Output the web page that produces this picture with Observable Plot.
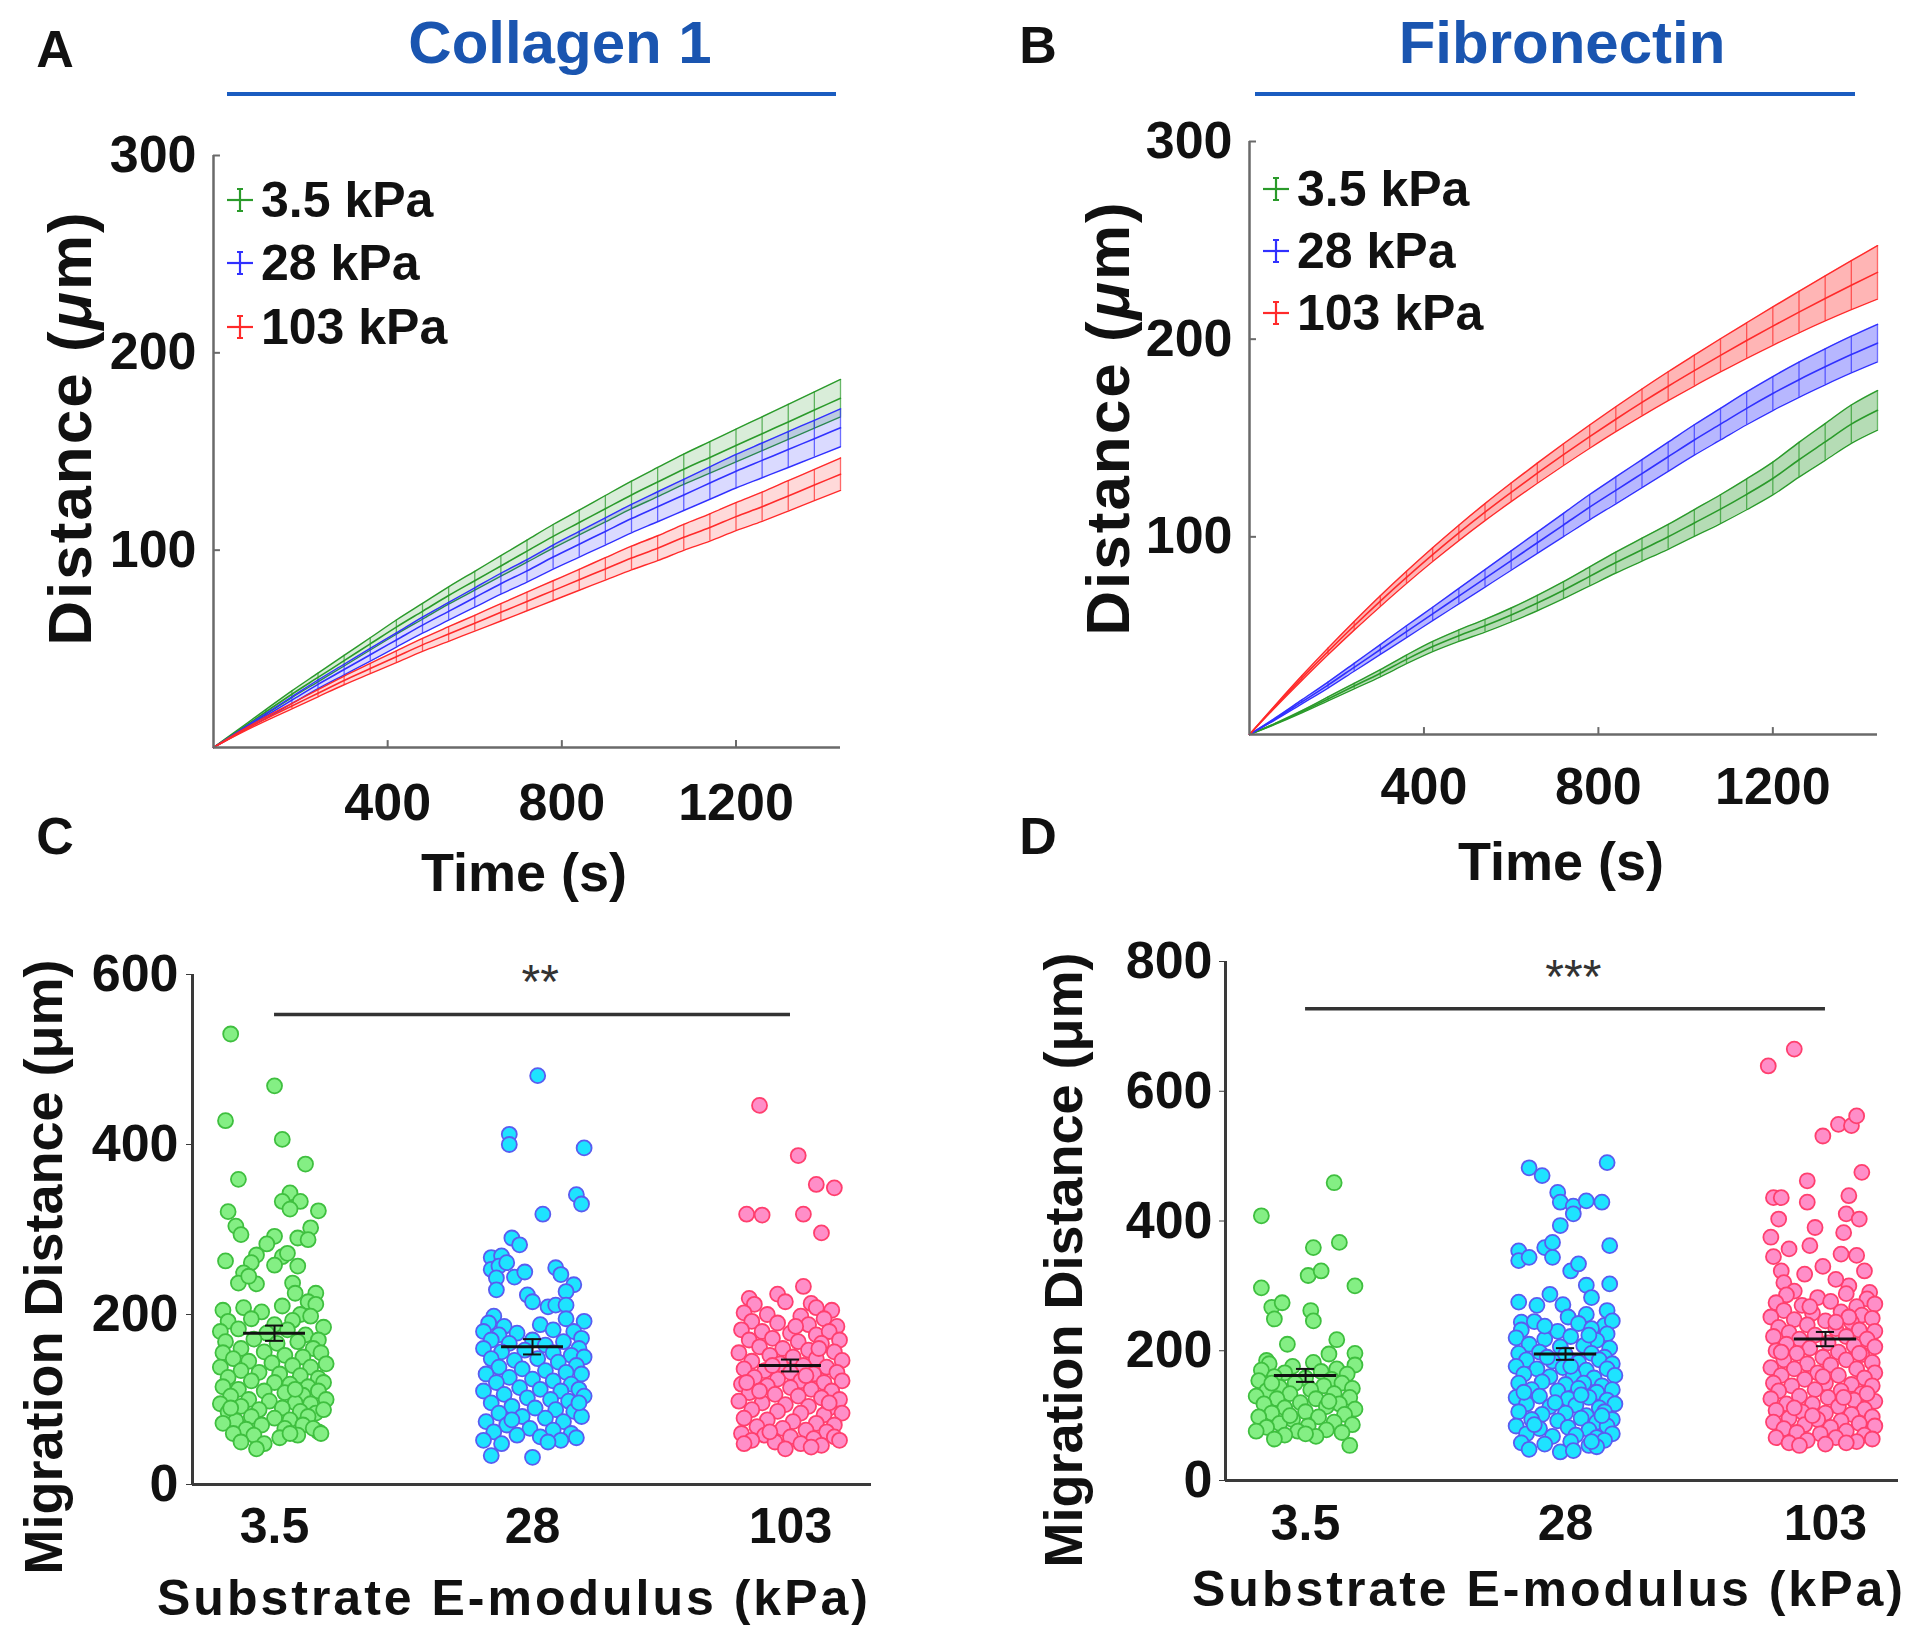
<!DOCTYPE html>
<html lang="en"><head><meta charset="utf-8">
<script src="https://cdn.jsdelivr.net/npm/d3@7"></script>
<script src="https://cdn.jsdelivr.net/npm/@observablehq/plot@0.6"></script>
<style>
body{margin:0;background:#fff;}
#fig{position:relative;width:1920px;height:1630px;background:#fff;font-family:'Liberation Sans',Arial,Helvetica,sans-serif;color:#111;overflow:hidden;}
.t{position:absolute;transform:translate(-50%,-50%);white-space:nowrap;line-height:1;font-weight:bold;}
.yl{position:absolute;transform:translate(-50%,-50%) rotate(-90deg);white-space:nowrap;line-height:1;font-weight:bold;}
.panel{position:absolute;}
.hl{position:absolute;height:4px;background:#1a5cc0;}
.lg{position:absolute;display:flex;align-items:center;gap:8px;transform:translateY(-50%);font-weight:bold;font-size:50px;line-height:1;white-space:nowrap;}
</style></head>
<body><div id="fig"></div>
<script>
// ---------- data: time courses (mean distance, µm) ----------
const times = [0,60,120,180,240,300,360,420,480,540,600,660,720,780,840,900,960,1020,1080,1140,1200,1260,1320,1380,1440];
const seriesNames = ["3.5 kPa","28 kPa","103 kPa"];
const colMean35  = [0,9,18,27,35.5,44,52.5,61,69,77,84.5,92,99.5,107,114,121,128,134.5,141,147,153,159,165,171,177];
const colMean28  = [0,8,16,24,32,39.5,47,54.5,62,69,76,83,89.5,96.5,103,109.5,116,122,128,134,140,145.5,151,156.5,162];
const colMean103 = [0,7.5,14.5,21,27.5,34,40,46,52,57.5,63,68.5,74,79.5,85,90.5,96,101,106.5,111.5,117,122,127.5,133,138.5];
const colErr35   = [0,0.6,1.2,1.7,2.2,2.7,3.1,3.6,4.0,4.4,4.8,5.2,5.6,6.0,6.3,6.7,7.0,7.4,7.7,8.0,8.3,8.6,8.9,9.2,9.5];
const colErr28   = [0,0.6,1.2,1.7,2.2,2.7,3.2,3.6,4.1,4.5,4.9,5.3,5.7,6.1,6.5,6.9,7.2,7.6,7.9,8.2,8.5,8.8,9.1,9.3,9.6];
const colErr103  = [0,0.5,1.0,1.4,1.8,2.2,2.6,3.0,3.3,3.7,4.0,4.4,4.7,5.0,5.3,5.7,6.0,6.3,6.6,6.9,7.1,7.4,7.7,7.9,8.2];
const fnMean35   = [0,5.5,11.5,18,24.5,31,38,44.5,50,55,60.5,66.5,73,80,87,93.5,100,107,114,121.5,129.5,139,148,157,164];
const fnMean28   = [0,8,16.5,25,34,43,52,61,70,79,88,97,106,115,123.5,132,140.5,149,157,165,172.5,179.5,186,192.2,198];
const fnMean103  = [0,14.5,28.5,42,55,67.5,79.5,91,102,112.5,122.5,132.2,141.6,150.7,159.5,168,176.2,184.1,191.8,199.3,206.6,213.7,220.6,227.3,233.8];
const fnErr35    = [0,0.3,0.6,1.0,1.4,1.8,2.2,2.6,2.9,3.2,3.5,3.9,4.3,4.8,5.3,5.8,6.3,6.8,7.3,7.8,8.3,8.8,9.3,9.7,10.0];
const fnErr28    = [0,0.5,1.0,1.5,2.0,2.5,3.0,3.4,3.9,4.4,4.9,5.4,5.9,6.4,6.8,7.1,7.4,7.7,8.0,8.3,8.6,8.9,9.1,9.3,9.5];
const fnErr103   = [0,0.6,1.2,1.7,2.2,2.7,3.1,3.5,3.9,4.3,4.7,5.1,5.5,5.9,6.3,6.8,7.3,7.8,8.4,9.0,9.7,10.5,11.4,12.4,13.5];
const timeTicks = [400,800,1200];
const distTicks = [100,200,300];

// ---------- data: migration distance per cell [jitter, µm] ----------
const categories = ["3.5","28","103"];
const col35 = [[-0.17,530],[0.00,469],[-0.19,428],[0.03,406],[0.12,377],[-0.14,359],[0.06,343],[0.03,333],[0.10,333],[0.06,324],[0.17,322],[-0.18,321],[-0.15,304],[-0.13,294],[0.14,302],[0.09,290],[0.13,288],[0.00,292],[-0.03,283],[-0.19,263],[-0.07,270],[-0.09,261],[0.03,268],[0.00,258],[0.05,272],[0.09,257],[-0.12,249],[-0.14,237],[-0.07,236],[-0.10,245],[0.07,237],[0.08,225],[0.16,225],[0.13,215],
[-0.20,205],[-0.12,208],[-0.05,203],[0.03,210],[0.10,200],[0.16,212],[-0.18,192],[-0.09,195],[0.00,188],[0.07,193],[0.14,198],[0.19,185],[-0.21,180],[-0.14,183],[-0.03,178],[0.05,182],[0.12,176],[0.17,170],[-0.19,168],[-0.08,171],[0.01,166],[0.09,168],[0.15,160],[-0.13,160],[-0.20,155],[-0.04,156],[0.04,152],[0.11,150],[0.18,155],[-0.16,148],[-0.10,145],[-0.01,143],[0.07,140],[0.14,138],[0.20,142],[-0.21,138],[-0.13,134],[-0.06,132],[0.02,130],[0.10,128],[0.17,125],[-0.18,126],[-0.09,122],[0.00,120],[0.06,118],[0.13,115],[0.19,120],[-0.20,115],[-0.14,112],[-0.04,110],[0.04,108],[0.11,105],[0.17,110],[-0.17,104],[-0.10,100],[-0.02,98],[0.08,96],[0.14,95],[0.20,100],[-0.21,95],[-0.13,92],[-0.06,88],[0.03,90],[0.10,86],[0.16,84],[-0.18,85],[-0.09,80],[0.00,78],[0.06,76],[0.13,80],[0.19,88],[-0.15,75],[-0.20,72],[-0.05,70],[0.04,66],[0.11,70],[0.17,62],[-0.11,65],[-0.16,60],[-0.08,58],[0.02,55],[0.09,58],[0.15,66],[-0.04,48],[-0.13,50],[-0.07,42],[0.06,60],[0.18,60],[-0.17,90],[0.08,112]];
const col28 = [[0.02,481],[-0.09,412],[-0.09,400],[0.20,396],[0.17,341],[0.19,330],[0.04,318],[-0.08,290],[-0.05,282],[-0.16,267],[-0.12,269],[-0.16,253],[-0.13,257],[-0.10,261],[-0.14,243],[-0.07,244],[-0.03,250],[-0.14,229],[0.09,255],[0.11,247],[0.16,235],[0.13,227],[-0.02,223],[0.00,215],[0.06,209],[0.09,211],[0.13,211],
[-0.15,198],[-0.17,190],[0.13,195],[0.20,192],[-0.11,186],[0.03,188],[-0.19,180],[-0.13,176],[-0.06,178],[0.08,182],[0.16,180],[0.19,172],[-0.16,170],[-0.09,166],[0.00,170],[0.05,164],[0.12,168],[0.18,160],[-0.19,160],[-0.12,156],[-0.03,158],[0.08,155],[0.15,152],[0.20,150],[-0.16,148],[-0.07,146],[0.02,148],[0.10,144],[0.17,140],[-0.13,138],[-0.04,136],[0.05,134],[0.13,132],[0.19,130],[-0.18,130],[-0.09,126],[0.00,124],[0.08,122],[0.15,118],[-0.14,120],[-0.05,114],[0.03,112],[0.11,110],[0.18,112],[-0.19,110],[-0.11,106],[-0.02,102],[0.07,100],[0.14,98],[0.20,104],[-0.16,96],[-0.08,92],[0.01,90],[0.09,88],[0.16,86],[-0.13,84],[-0.04,80],[0.05,78],[0.12,74],[0.19,80],[-0.18,74],[-0.10,70],[-0.01,66],[0.08,64],[0.15,60],[-0.15,62],[-0.06,58],[0.03,56],[0.11,52],[0.17,55],[-0.19,52],[-0.12,48],[-0.16,34],[0.00,32],[0.06,50],[-0.08,76],[0.18,96]];
const col103 = [[-0.12,446],[0.03,387],[0.10,353],[0.17,349],[-0.17,318],[-0.11,317],[0.05,318],[0.12,296],[0.05,233],[-0.16,219],[-0.05,224],[0.08,213],
[-0.14,212],[-0.02,215],[0.10,208],[0.16,205],[-0.18,202],[-0.09,200],[0.04,198],[0.13,195],[-0.15,192],[-0.05,190],[0.07,188],[0.18,186],[-0.19,182],[-0.11,180],[0.00,178],[0.10,176],[0.15,180],[-0.07,172],[-0.16,170],[0.03,168],[0.12,166],[0.19,170],[-0.12,162],[-0.03,160],[0.07,158],[0.17,156],[-0.20,155],[-0.08,152],[0.01,150],[0.10,148],[0.20,146],[-0.15,145],[-0.04,142],[0.05,140],[0.14,138],[-0.18,136],[-0.10,134],[0.00,132],[0.09,130],[0.18,132],[-0.14,126],[-0.05,124],[0.04,122],[0.13,120],[0.20,122],[-0.19,118],[-0.09,116],[0.00,114],[0.08,112],[0.16,110],[-0.16,108],[-0.06,106],[0.03,104],[0.12,102],[0.19,100],[-0.20,98],[-0.11,96],[-0.02,94],[0.07,92],[0.15,90],[-0.15,88],[-0.05,86],[0.04,84],[0.13,82],[0.20,84],[-0.18,78],[-0.09,76],[0.01,74],[0.10,72],[0.17,70],[-0.13,68],[-0.03,66],[0.06,64],[0.14,62],[-0.19,60],[-0.10,58],[0.00,56],[0.09,54],[0.17,56],[-0.15,52],[-0.06,50],[0.04,48],[0.12,46],[-0.18,48],[-0.02,42],[0.08,44],[0.19,52],[-0.12,110],[0.06,128],[-0.07,140],[0.11,160],[-0.17,120],[0.15,96],[-0.08,62],[0.02,186]];
const fn35 = [[0.11,459],[-0.17,408],[0.03,359],[0.13,367],[0.01,316],[0.06,323],[-0.17,297],[0.19,300],[-0.13,267],[-0.09,274],[-0.12,249],[0.02,262],[0.03,246],[-0.07,210],[0.12,217],[0.19,196],[-0.15,185],[0.09,195],
[-0.14,180],[0.03,182],[0.19,178],[-0.05,176],[0.12,172],[-0.17,170],[-0.08,166],[0.06,168],[0.16,164],[-0.12,160],[0.00,158],[0.10,156],[-0.18,154],[-0.04,150],[0.14,150],[0.07,146],[-0.10,144],[0.18,142],[-0.15,138],[0.02,140],[-0.06,134],[0.11,134],[0.17,128],[-0.19,130],[-0.11,126],[0.04,126],[-0.02,120],[0.13,118],[-0.16,118],[0.08,114],[-0.08,112],[0.19,110],[0.00,106],[-0.13,104],[0.15,102],[-0.18,98],[0.05,98],[-0.05,94],[0.11,90],[-0.10,88],[0.18,86],[0.01,84],[-0.15,82],[0.08,78],[-0.03,76],[0.14,74],[-0.19,76],[-0.08,70],[0.04,68],[-0.12,64],[0.00,72],[0.17,54],[-0.06,100],[0.09,122],[-0.13,150]];
const fn28 = [[0.16,490],[-0.14,482],[-0.09,470],[-0.03,444],[-0.02,429],[0.03,423],[0.08,431],[0.14,429],[0.03,411],[-0.02,393],[0.17,362],[-0.18,354],[-0.18,339],[-0.14,344],[-0.08,359],[-0.05,367],[-0.05,344],[0.02,323],[0.05,334],[0.17,303],[0.08,301],[0.10,282],[-0.18,275],[-0.17,244],[-0.11,270],[-0.06,287],[-0.01,271],[0.01,252],[0.16,262],[0.15,239],[0.08,256],
[-0.12,245],[0.05,242],[0.18,246],[-0.17,232],[-0.03,230],[0.10,234],[0.16,226],[-0.19,220],[-0.08,218],[0.02,222],[0.12,216],[-0.14,210],[-0.02,206],[0.07,208],[0.17,204],[-0.18,196],[-0.10,198],[0.00,194],[0.10,196],[0.15,190],[-0.15,186],[-0.05,184],[0.05,182],[0.13,186],[0.18,180],[-0.19,176],[-0.11,172],[-0.01,174],[0.08,170],[0.16,172],[-0.16,164],[-0.06,160],[0.03,162],[0.11,158],[0.19,162],[-0.18,150],[-0.09,152],[0.00,148],[0.07,150],[0.14,146],[-0.13,140],[-0.03,138],[0.05,142],[0.12,136],[0.18,140],[-0.19,128],[-0.10,130],[0.01,126],[0.09,128],[0.16,124],[-0.15,118],[-0.06,114],[0.04,116],[0.13,112],[0.19,118],[-0.18,106],[-0.09,102],[0.00,104],[0.08,100],[0.15,106],[-0.13,94],[-0.03,92],[0.06,96],[0.12,90],[0.18,94],[-0.19,84],[-0.10,80],[0.01,82],[0.09,78],[0.16,84],[-0.15,72],[-0.05,68],[0.04,70],[0.12,66],[0.18,72],[-0.17,58],[-0.08,56],[0.02,60],[0.09,54],[0.15,62],[-0.14,48],[-0.02,44],[0.03,46],[0.12,52],[-0.07,190],[0.06,132],[-0.12,86],[0.10,60],[-0.04,120],[0.14,100],[-0.16,136],[0.02,176],[-0.08,238],[0.09,224]];
const fn103 = [[-0.22,639],[-0.12,665],[-0.01,531],[0.05,549],[0.10,547],[0.12,562],[0.14,475],[-0.07,462],[-0.07,429],[-0.20,436],[-0.17,436],[0.09,439],[0.08,411],[0.13,403],[0.07,382],[-0.18,403],[-0.04,390],[-0.06,362],[-0.21,375],[-0.14,357],[0.06,349],[0.12,347],[0.15,323],[-0.20,345],[-0.17,323],[-0.16,305],[-0.08,318],[-0.01,330],[0.09,300],[0.04,310],[-0.12,292],[0.17,290],
[-0.15,286],[-0.03,282],[0.08,288],[0.16,280],[-0.19,274],[-0.09,270],[0.02,276],[0.12,268],[0.19,272],[-0.16,262],[-0.05,258],[0.06,260],[0.14,255],[-0.21,252],[-0.12,248],[0.00,246],[0.10,244],[0.18,250],[-0.07,240],[-0.18,236],[0.04,234],[0.13,232],[-0.14,228],[0.19,230],[-0.04,224],[0.08,222],[-0.10,218],[0.16,218],[-0.20,222],[-0.15,210],[0.01,212],[0.11,208],[-0.06,204],[0.19,206],[-0.19,200],[-0.11,196],[0.05,198],[0.14,194],[-0.01,190],[-0.16,186],[0.08,186],[0.18,182],[-0.07,180],[0.02,178],[-0.21,174],[-0.12,172],[0.12,172],[0.19,166],[-0.03,166],[-0.17,162],[0.05,162],[0.15,158],[-0.08,156],[-0.20,150],[0.00,150],[0.10,148],[-0.13,146],[0.18,146],[-0.04,140],[-0.18,138],[0.06,138],[0.14,134],[-0.10,130],[0.01,128],[-0.21,126],[0.11,124],[0.19,122],[-0.15,118],[-0.05,118],[0.05,114],[0.15,110],[-0.19,108],[-0.09,106],[0.00,104],[0.10,102],[0.18,98],[-0.14,96],[-0.03,94],[0.06,92],[-0.20,90],[-0.08,86],[0.13,88],[0.02,82],[0.19,84],[-0.16,80],[-0.11,74],[0.08,76],[-0.02,72],[0.15,70],[-0.19,66],[0.04,66],[-0.07,62],[0.12,60],[0.18,64],[-0.14,58],[0.00,56],[-0.10,54],[0.08,58],[-0.06,268],[0.09,252],[-0.17,198],[0.04,244],[-0.01,160],[0.13,196],[-0.12,112],[0.07,128],[0.16,134],[-0.05,100]];
const colMeans = [178,162,140], colSems = [9,9,7];
const fnMeans  = [162,195,218], fnSems  = [10,9,11];
const colSig = {from:1, to:3, y:553, ty:590, label:"**"};
const fnSig  = {from:1, to:3, y:727, ty:775, label:"***"};
const colTicks = [0,200,400,600];
const fnTicks = [0,200,400,600,800];

// ---------- styles ----------
const lineColors = ["#2a9a2a","#3030ff","#ff2a2a"];
const dotFill   = ["#84ef84","#1ee3ff","#ff8ec8"];
const dotStroke = ["#3fbf3f","#5a5cf0","#ff3f6e"];
const FONT = "'Liberation Sans',Arial,Helvetica,sans-serif";
const fig = document.getElementById("fig");

function place(node, left, top){
  const d = document.createElement("div");
  d.className = "panel"; d.style.left = left+"px"; d.style.top = top+"px";
  d.appendChild(node); fig.appendChild(d);
}
function txt(html, x, y, size, cls="t", extra=""){
  const d = document.createElement("div");
  d.className = cls; d.innerHTML = html;
  d.style.cssText += `left:${x}px;top:${y}px;font-size:${size}px;${extra}`;
  fig.appendChild(d);
}

function timePanel(means, errs, fo, dims){
  const marks = [];
  means.forEach((m, k) => {
    const data = times.map((t,i)=>({t, m:m[i], e:errs[k][i]}));
    marks.push(Plot.areaY(data,{x:"t", y1:d=>d.m-d.e, y2:d=>d.m+d.e, fill:lineColors[k], fillOpacity:fo, curve:"monotone-x"}));
    marks.push(Plot.ruleX(data,{x:"t", y1:d=>d.m-d.e, y2:d=>d.m+d.e, stroke:lineColors[k], strokeWidth:1.3, strokeOpacity:0.7}));
    marks.push(Plot.lineY(data,{x:"t", y:d=>d.m+d.e, stroke:lineColors[k], strokeWidth:1.4, curve:"monotone-x"}));
    marks.push(Plot.lineY(data,{x:"t", y:d=>d.m-d.e, stroke:lineColors[k], strokeWidth:1.4, curve:"monotone-x"}));
    marks.push(Plot.lineY(data,{x:"t", y:"m", stroke:lineColors[k], strokeWidth:1.6, curve:"monotone-x"}));
  });
  const ax = "#6a6a6a";
  marks.push(
    Plot.ruleY([0],{stroke:ax, strokeWidth:2.5}),
    Plot.ruleX([0],{stroke:ax, strokeWidth:2.5}),
    Plot.ruleX(timeTicks,{x:d=>d, y1:0, y2:3.5, stroke:ax, strokeWidth:2}),
    Plot.ruleY(distTicks,{y:d=>d, x1:0, x2:16, stroke:ax, strokeWidth:2}),
    Plot.axisX({ticks:timeTicks, tickFormat:d=>String(d), tickSize:0, tickPadding:dims.xpad, fontSize:52, fontWeight:"bold", label:null}),
    Plot.axisY({ticks:distTicks, tickFormat:d=>String(d), tickSize:0, tickPadding:17, fontSize:52, fontWeight:"bold", label:null})
  );
  return Plot.plot({
    width:dims.w, height:dims.h, marginLeft:dims.l, marginRight:dims.r, marginTop:dims.t, marginBottom:dims.b,
    x:{domain:[0,1440]}, y:{domain:[0,300]},
    style:{fontFamily:FONT, fontWeight:"bold", color:"#111", background:"transparent", overflow:"visible"},
    marks
  });
}

function scatterPanel(groups, means, sems, sig, yTicks, yMax, xDom, dims){
  const marks = [];
  const ax = "#3a3a3a";
  marks.push(Plot.ruleY([0],{stroke:ax, strokeWidth:3}));
  marks.push(Plot.ruleX([xDom[0]],{y1:0, y2:yMax, stroke:ax, strokeWidth:3}));
  marks.push(Plot.axisY({ticks:yTicks, tickFormat:d=>String(d), tickSize:6, tickPadding:dims.ypad, fontSize:52, fontWeight:"bold", label:null, stroke:ax}));
  marks.push(Plot.axisX({ticks:[1,2,3], tickFormat:i=>categories[i-1], tickSize:0, tickPadding:dims.xpad, fontSize:50, fontWeight:"bold", label:null}));
  groups.forEach((g,k)=>{
    marks.push(Plot.dot(g,{x:d=>k+1+d[0], y:d=>d[1], r:7.5, fill:dotFill[k], stroke:dotStroke[k], strokeWidth:1.8}));
  });
  const stats = means.map((m,i)=>({k:i+1, m, s:sems[i]}));
  marks.push(Plot.ruleX(stats,{x:"k", y1:d=>d.m-d.s, y2:d=>d.m+d.s, stroke:"#111", strokeWidth:2}));
  marks.push(Plot.ruleY(stats,{x1:d=>d.k-0.035, x2:d=>d.k+0.035, y:d=>d.m+d.s, stroke:"#111", strokeWidth:2}));
  marks.push(Plot.ruleY(stats,{x1:d=>d.k-0.035, x2:d=>d.k+0.035, y:d=>d.m-d.s, stroke:"#111", strokeWidth:2}));
  marks.push(Plot.ruleY(stats,{x1:d=>d.k-0.12, x2:d=>d.k+0.12, y:"m", stroke:"#111", strokeWidth:3}));
  marks.push(Plot.ruleY([sig],{x1:"from", x2:"to", y:"y", stroke:"#333", strokeWidth:3.5}));
  marks.push(Plot.text([sig],{x:d=>(d.from+d.to)/2+0.03, y:"ty", text:"label", fontSize:48, fontWeight:"normal", fill:"#333"}));
  return Plot.plot({
    width:dims.w, height:dims.h, marginLeft:dims.l, marginRight:dims.r, marginTop:dims.t, marginBottom:dims.b,
    x:{domain:xDom}, y:{domain:[0,yMax]},
    style:{fontFamily:FONT, fontWeight:"bold", color:"#111", background:"transparent", overflow:"visible"},
    marks
  });
}

// Panel A
place(timePanel([colMean35,colMean28,colMean103],[colErr35,colErr28,colErr103],0.18,
  {w:880,h:800,l:213,r:40,t:35,b:173,xpad:36}), 0, 120);
// Panel B
place(timePanel([fnMean35,fnMean28,fnMean103],[fnErr35,fnErr28,fnErr103],0.35,
  {w:920,h:820,l:249,r:43,t:41,b:186,xpad:33}), 1000, 100);
// Panel C
place(scatterPanel([col35,col28,col103], colMeans, colSems, colSig, colTicks, 600, [0.682,3.314],
  {w:900,h:710,l:192,r:29,t:54,b:146,xpad:23,ypad:8}), 0, 920);
// Panel D
place(scatterPanel([fn35,fn28,fn103], fnMeans, fnSems, fnSig, fnTicks, 800, [0.692,3.281],
  {w:920,h:710,l:225,r:22,t:41,b:150,xpad:24,ypad:7}), 1000, 920);

// Panel letters and titles
txt("A",55,49,52); txt("B",1038,45,52); txt("C",55,836,52); txt("D",1038,836,52);
txt("Collagen 1",560,43,60,"t","color:#1a55b0;");
txt("Fibronectin",1562,43,60,"t","color:#1a55b0;");
[[227,836],[1255,1855]].forEach(([a,b])=>{
  const d=document.createElement("div"); d.className="hl";
  d.style.cssText+=`left:${a}px;top:92px;width:${b-a}px;`; fig.appendChild(d);
});
// Axis titles
txt("Distance (<i>μ</i>m)",70,428,62,"yl","letter-spacing:2px;");
txt("Distance (<i>μ</i>m)",1108,418,62,"yl","letter-spacing:2px;");
txt("Time (s)",524,872,54); txt("Time (s)",1561,861,54);
txt("Migration Distance (μm)",43,1267,54,"yl");
txt("Migration Distance (μm)",1063,1260,54,"yl");
txt("Substrate E-modulus (kPa)",514,1598,50,"t","letter-spacing:3px;");
txt("Substrate E-modulus (kPa)",1549,1589,50,"t","letter-spacing:3px;");

// Legends
function legend(x, ys){
  seriesNames.forEach((n,k)=>{
    const d=document.createElement("div"); d.className="lg";
    d.style.left=x+"px"; d.style.top=ys[k]+"px";
    const c=lineColors[k];
    d.innerHTML=`<svg width="26" height="28"><line x1="0" y1="14" x2="26" y2="14" stroke="${c}" stroke-width="2.2"/><line x1="13" y1="3" x2="13" y2="25" stroke="${c}" stroke-width="2.2"/><line x1="10" y1="3" x2="16" y2="3" stroke="${c}" stroke-width="2"/><line x1="10" y1="25" x2="16" y2="25" stroke="${c}" stroke-width="2"/></svg><span>${n}</span>`;
    fig.appendChild(d);
  });
}
legend(227,[200,263,327]);
legend(1263,[189,251,313]);
</script>
</body></html>
